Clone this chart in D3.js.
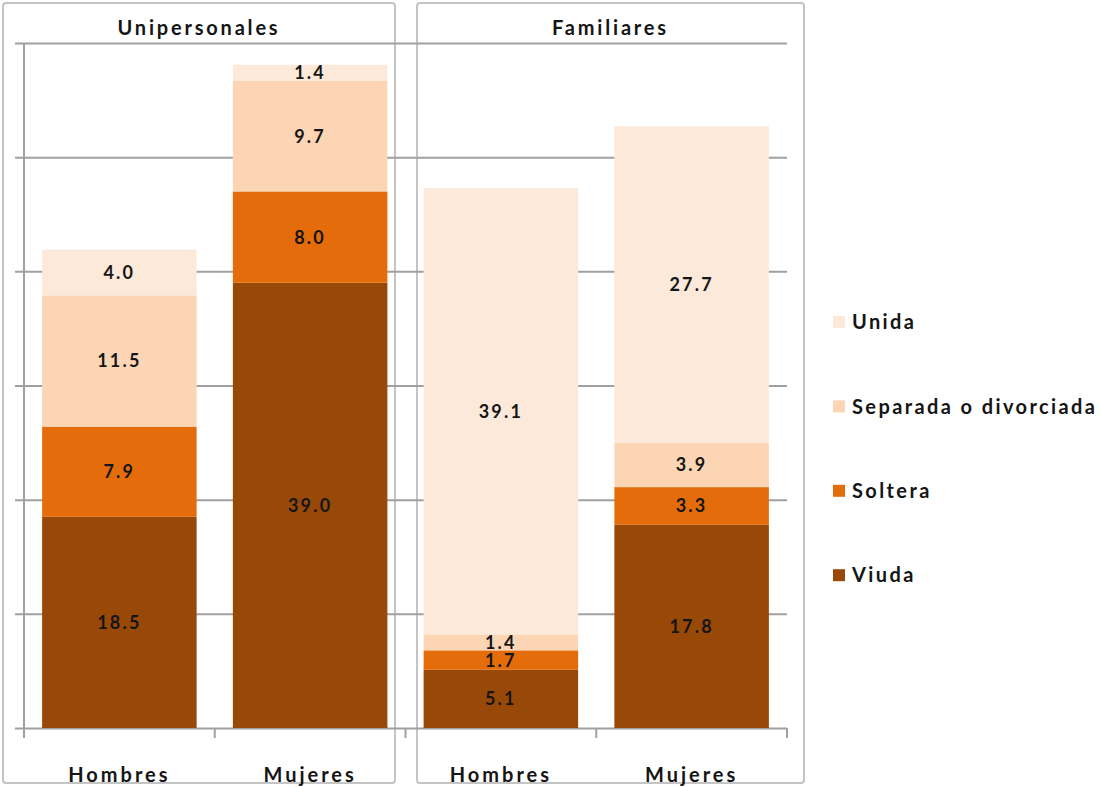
<!DOCTYPE html>
<html>
<head>
<meta charset="utf-8">
<script src="https://cdn.jsdelivr.net/npm/d3@7"></script>
<style>
  body { margin: 0; background: #fff; }
  text { font-family: Lato, "Open Sans", sans-serif; font-weight: bold; fill: #151515; }
</style>
</head>
<body>
<div id="chart"></div>
<script>
  // Datos
  const panels = ["Unipersonales", "Familiares"];
  const sexes = ["Hombres", "Mujeres"];
  const series = ["Viuda", "Soltera", "Separada o divorciada", "Unida"];
  const colors = ["#984807", "#e46c0a", "#fcd5b5", "#fde9d9"];
  // orden: Unipersonales-Hombres, Unipersonales-Mujeres, Familiares-Hombres, Familiares-Mujeres
  const viuda    = [18.5, 39.0, 5.1, 17.8];
  const soltera  = [7.9, 8.0, 1.7, 3.3];
  const separada = [11.5, 9.7, 1.4, 3.9];
  const unida    = [4.0, 1.4, 39.1, 27.7];
  const yTicks = [0, 10, 20, 30, 40, 50, 60];

  const W = 1101, H = 787;
  const plotLeft = 24, plotRight = 787, plotTop = 43, plotBottom = 728;

  const cats = [];
  panels.forEach(p => sexes.forEach(s => cats.push(p + "|" + s)));
  const rows = cats.map((c, i) => ({
    cat: c, Viuda: viuda[i], Soltera: soltera[i],
    "Separada o divorciada": separada[i], Unida: unida[i]
  }));

  const svg = d3.select("#chart").append("svg")
    .attr("width", W).attr("height", H);

  const x = d3.scaleBand().domain(cats).range([plotLeft, plotRight])
    .paddingInner(0.19).paddingOuter(0.095);
  const y = d3.scaleLinear().domain([0, 60]).range([plotBottom, plotTop]);
  const color = d3.scaleOrdinal().domain(series).range(colors);

  // cajas de los paneles
  const boxes = [[3, 395], [417, 804]];
  svg.selectAll("rect.panel").data(panels).join("rect")
    .attr("class", "panel")
    .attr("x", (d, i) => boxes[i][0]).attr("y", 3)
    .attr("width", (d, i) => boxes[i][1] - boxes[i][0]).attr("height", 780)
    .attr("rx", 3)
    .attr("fill", "none").attr("stroke", "#c4c4c4").attr("stroke-width", 2);

  svg.selectAll("text.panel-title").data(panels).join("text")
    .attr("class", "panel-title")
    .attr("x", (d, i) => (boxes[i][0] + boxes[i][1]) / 2)
    .attr("y", 35)
    .attr("text-anchor", "middle")
    .attr("font-size", 20).attr("letter-spacing", 2.8)
    .text(d => d);

  // rejilla
  const gy = svg.append("g").attr("transform", `translate(${plotLeft - 9},0)`)
    .call(d3.axisLeft(y).tickValues(yTicks).tickSize(-(plotRight - plotLeft + 9)).tickFormat(""));
  gy.select(".domain").remove();
  gy.selectAll(".tick line").attr("stroke", "#a0a0a0").attr("stroke-width", 2);

  // barras apiladas
  const stacked = d3.stack().keys(series)(rows);
  const layer = svg.append("g").selectAll("g").data(stacked).join("g")
    .attr("fill", d => color(d.key));
  layer.selectAll("rect").data(d => d).join("rect")
    .attr("x", d => x(d.data.cat))
    .attr("width", x.bandwidth())
    .attr("y", d => y(d[1]))
    .attr("height", d => y(d[0]) - y(d[1]));

  layer.selectAll("text").data(d => d).join("text")
    .attr("x", d => x(d.data.cat) + x.bandwidth() / 2)
    .attr("y", d => (y(d[0]) + y(d[1])) / 2)
    .attr("dy", "0.36em")
    .attr("text-anchor", "middle")
    .attr("font-size", 18).attr("letter-spacing", 2.2)
    .text(d => d3.format(".1f")(d[1] - d[0]));

  // eje vertical
  svg.append("line")
    .attr("x1", plotLeft).attr("x2", plotLeft).attr("y1", plotTop).attr("y2", plotBottom + 10)
    .attr("stroke", "#a0a0a0").attr("stroke-width", 2);

  // eje horizontal
  const step = x.step();
  const bounds = d3.range(cats.length + 1).map(i => plotLeft + i * step);
  svg.selectAll("line.xtick").data(bounds).join("line")
    .attr("class", "xtick")
    .attr("x1", d => d).attr("x2", d => d)
    .attr("y1", plotBottom).attr("y2", plotBottom + 10)
    .attr("stroke", "#a0a0a0").attr("stroke-width", 2);

  svg.selectAll("text.xlab").data(cats).join("text")
    .attr("class", "xlab")
    .attr("x", d => x(d) + x.bandwidth() / 2)
    .attr("y", 782)
    .attr("text-anchor", "middle")
    .attr("font-size", 20).attr("letter-spacing", 3)
    .text(d => d.split("|")[1]);

  // leyenda
  const legend = svg.append("g").selectAll("g").data(series.slice().reverse()).join("g")
    .attr("transform", (d, i) => `translate(833,${322 + i * 84.4})`);
  legend.append("rect")
    .attr("x", 0).attr("y", -6).attr("width", 12).attr("height", 12)
    .attr("fill", d => color(d));
  legend.append("text")
    .attr("x", 19).attr("dy", "0.36em")
    .attr("font-size", 20).attr("letter-spacing", 2.4)
    .text(d => d);
</script>
</body>
</html>
